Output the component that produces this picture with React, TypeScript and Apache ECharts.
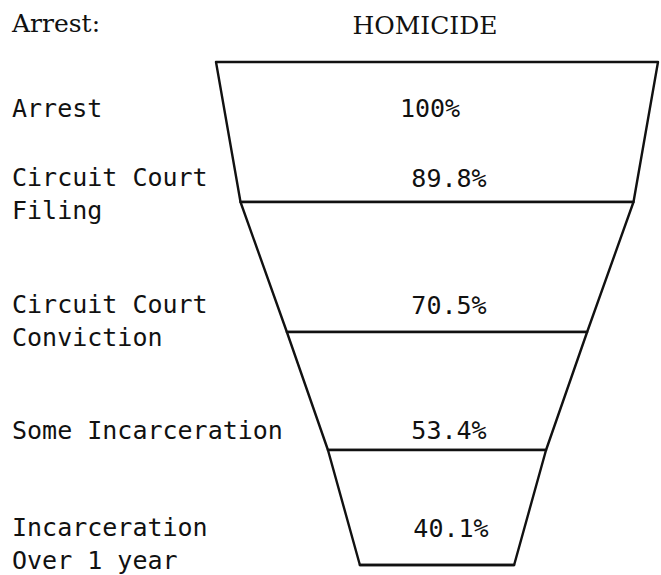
import { useEffect, useRef } from "react";
import * as echarts from "echarts";

const heading = "Arrest:";
const title = "HOMICIDE";
const stages = [
  "Arrest",
  "Circuit Court\nFiling",
  "Circuit Court\nConviction",
  "Some Incarceration",
  "Incarceration\nOver 1 year",
];
const percents = [100, 89.8, 70.5, 53.4, 40.1];
const percentLabels = ["100%", "89.8%", "70.5%", "53.4%", "40.1%"];

export default function App() {
  const ref = useRef<HTMLDivElement>(null);
  useEffect(() => {
    document.body.style.margin = "0";
    document.body.style.overflow = "hidden";
    const chart = echarts.init(ref.current!, null, { renderer: "svg" });
    const pieceHeights = [140, 130, 118, 115, 0];
    const labelShifts = [
      [-7, -24],
      [12, -89],
      [12, -86],
      [12, -77],
      [14, -37],
    ];
    const stageTops = [108, 177, 304, 430, 527];
    const mono = "DejaVu Sans Mono";
    const serif = "DejaVu Serif";
    chart.setOption({
      animation: false,
      backgroundColor: "#ffffff",
      graphic: [
        {
          type: "text",
          left: 12,
          top: 11,
          style: { text: heading, font: `25px '${serif}'`, fill: "#111" },
        },
        {
          type: "text",
          x: 425,
          y: 25,
          style: {
            text: title,
            font: `25px '${serif}'`,
            fill: "#111",
            textAlign: "center",
            textVerticalAlign: "middle",
          },
        },
        ...stages.map((s, i) => ({
          type: "text",
          x: 12,
          y: stageTops[i] - 16,
          style: {
            text: s,
            font: `25px '${mono}'`,
            lineHeight: 33,
            fill: "#111",
            textAlign: "left",
            textVerticalAlign: "top",
          },
        })),
      ],
      series: [
        {
          type: "funnel",
          left: 210,
          top: 62,
          width: 454,
          height: 503,
          min: 8,
          max: 100,
          minSize: 0,
          maxSize: 442,
          sort: "none",
          gap: 0,
          funnelAlign: "center",
          label: {
            show: true,
            position: "inside",
            color: "#111",
            fontFamily: mono,
            fontSize: 25,
            formatter: (p: any) => percentLabels[p.dataIndex] + "\n ",
          },
          labelLine: { show: false },
          itemStyle: { color: "#ffffff", borderColor: "#111", borderWidth: 2.4 },
          emphasis: { disabled: true },
          data: percents.map((v, i) => {
            const [dx, dy] = labelShifts[i];
            return {
              value: v,
              name: stages[i],
              itemStyle: { height: pieceHeights[i] },
              label: {
                lineHeight: 2 * Math.abs(dy),
                padding: [0, Math.max(0, -2 * dx), 0, Math.max(0, 2 * dx)],
              },
            };
          }),
        },
      ],
    });
    return () => chart.dispose();
  }, []);
  return <div ref={ref} style={{ width: 661, height: 575 }} />;
}
